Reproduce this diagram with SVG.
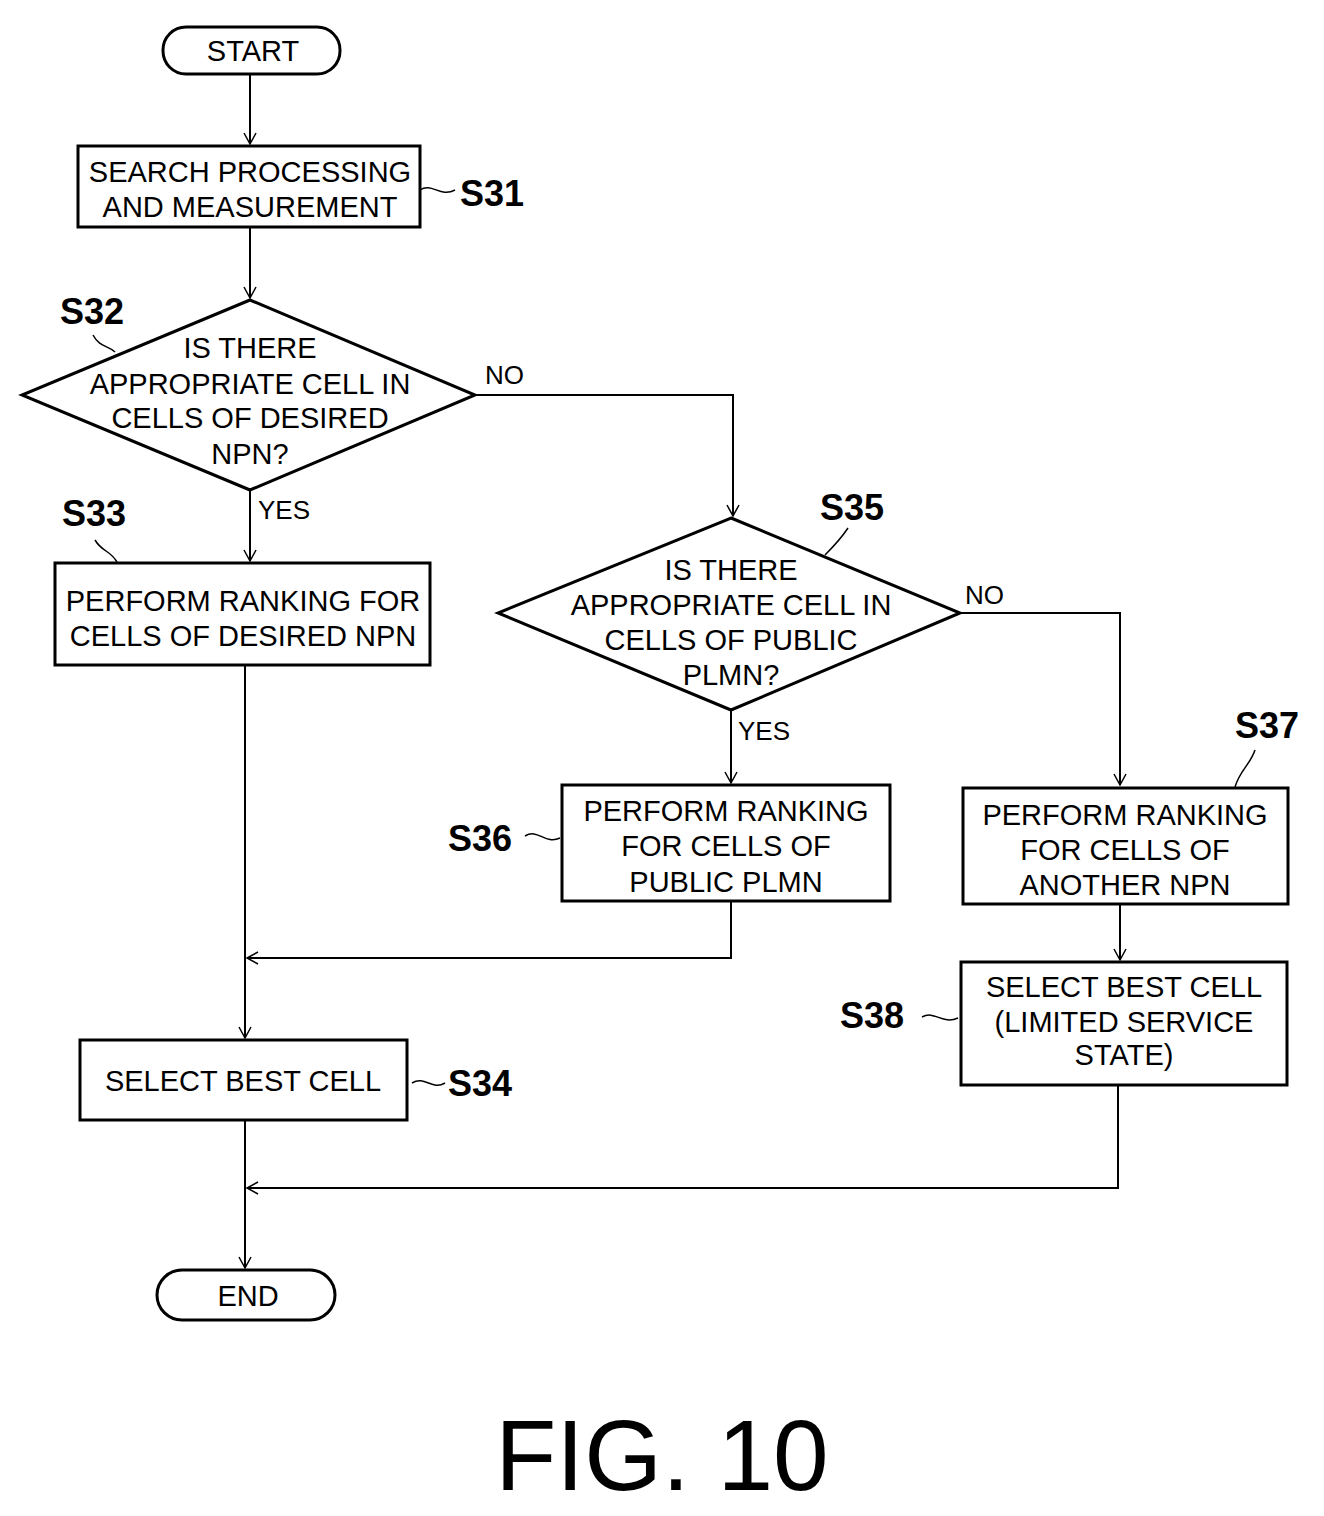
<svg xmlns="http://www.w3.org/2000/svg" width="1324" height="1516" viewBox="0 0 1324 1516">
<style>
.s{fill:#fff;stroke:#000;stroke-width:3}
.t{font-family:"Liberation Sans",Arial,sans-serif;font-size:29px;text-anchor:middle;fill:#000}
.l{font-family:"Liberation Sans",Arial,sans-serif;font-size:36px;font-weight:bold;fill:#000}
.y{font-family:"Liberation Sans",Arial,sans-serif;font-size:26px;fill:#000}
.c{fill:none;stroke:#000;stroke-width:2}
.d{fill:none;stroke:#000;stroke-width:1.5}
</style>
<defs><marker id="a" markerWidth="14" markerHeight="14" refX="12" refY="7" orient="auto" markerUnits="userSpaceOnUse"><path d="M1,1 L12,7 L1,13" fill="none" stroke="#000" stroke-width="1.5"/></marker></defs>
<rect width="1324" height="1516" fill="#fff"/>
<g id="connectors">
<path class="c" d="M250,74 V144" marker-end="url(#a)"/>
<path class="c" d="M250,227 V298" marker-end="url(#a)"/>
<path class="c" d="M250,490 V561" marker-end="url(#a)"/>
<path class="c" d="M475,395 H733 V516" marker-end="url(#a)"/>
<path class="c" d="M731,710 V783" marker-end="url(#a)"/>
<path class="c" d="M960,613 H1120 V785" marker-end="url(#a)"/>
<path class="c" d="M1120,904 V960" marker-end="url(#a)"/>
<path class="c" d="M245,665 V1038" marker-end="url(#a)"/>
<path class="c" d="M731,901 V958 H247" marker-end="url(#a)"/>
<path class="c" d="M245,1120 V1268" marker-end="url(#a)"/>
<path class="c" d="M1118,1085 V1188 H247" marker-end="url(#a)"/>
<path class="d" d="M420,190 C432,182 440,198 455,190"/>
<path class="d" d="M93,335 C100,348 108,345 115,352"/>
<path class="d" d="M95,540 C102,552 110,550 117,562"/>
<path class="d" d="M848,528 C840,540 835,545 825,555"/>
<path class="d" d="M525,836 C538,828 545,845 560,838"/>
<path class="d" d="M1255,750 C1250,765 1240,770 1235,787"/>
<path class="d" d="M922,1017 C935,1010 942,1025 958,1018"/>
<path class="d" d="M412,1083 C425,1075 432,1091 445,1083"/>
</g>
<g id="start"><rect class="s" x="163" y="27" width="177" height="47" rx="23"/><text class="t" x="253" y="61">START</text></g>
<g id="S31"><rect class="s" x="78" y="146" width="342" height="81"/><text class="t" x="250" y="182">SEARCH PROCESSING</text><text class="t" x="250" y="217">AND MEASUREMENT</text><text class="l" x="460" y="206">S31</text></g>
<g id="S32"><polygon class="s" points="250,300 475,395 250,490 22,395"/><text class="t" x="250" y="358">IS THERE</text><text class="t" x="250" y="394">APPROPRIATE CELL IN</text><text class="t" x="250" y="428">CELLS OF DESIRED</text><text class="t" x="250" y="464">NPN?</text><text class="l" x="60" y="324">S32</text><text class="y" x="485" y="384">NO</text><text class="y" x="258" y="519">YES</text></g>
<g id="S33"><rect class="s" x="55" y="563" width="375" height="102"/><text class="t" x="243" y="611">PERFORM RANKING FOR</text><text class="t" x="243" y="646">CELLS OF DESIRED NPN</text><text class="l" x="62" y="526">S33</text></g>
<g id="S35"><polygon class="s" points="731,518 960,613 731,710 498,613"/><text class="t" x="731" y="580">IS THERE</text><text class="t" x="731" y="615">APPROPRIATE CELL IN</text><text class="t" x="731" y="650">CELLS OF PUBLIC</text><text class="t" x="731" y="685">PLMN?</text><text class="l" x="820" y="520">S35</text><text class="y" x="965" y="604">NO</text><text class="y" x="738" y="740">YES</text></g>
<g id="S36"><rect class="s" x="562" y="785" width="328" height="116"/><text class="t" x="726" y="821">PERFORM RANKING</text><text class="t" x="726" y="856">FOR CELLS OF</text><text class="t" x="726" y="892">PUBLIC PLMN</text><text class="l" x="448" y="851">S36</text></g>
<g id="S37"><rect class="s" x="963" y="788" width="325" height="116"/><text class="t" x="1125" y="825">PERFORM RANKING</text><text class="t" x="1125" y="860">FOR CELLS OF</text><text class="t" x="1125" y="895">ANOTHER NPN</text><text class="l" x="1235" y="738">S37</text></g>
<g id="S38"><rect class="s" x="961" y="962" width="326" height="123"/><text class="t" x="1124" y="997">SELECT BEST CELL</text><text class="t" x="1124" y="1032">(LIMITED SERVICE</text><text class="t" x="1124" y="1065">STATE)</text><text class="l" x="840" y="1028">S38</text></g>
<g id="S34"><rect class="s" x="80" y="1040" width="327" height="80"/><text class="t" x="243" y="1091">SELECT BEST CELL</text><text class="l" x="448" y="1096">S34</text></g>
<g id="end"><rect class="s" x="157" y="1270" width="178" height="50" rx="25"/><text class="t" x="248" y="1306">END</text></g>
<text x="662" y="1490" style="font-family:'Liberation Sans',Arial,sans-serif;font-size:100px;text-anchor:middle">FIG. 10</text>
</svg>
